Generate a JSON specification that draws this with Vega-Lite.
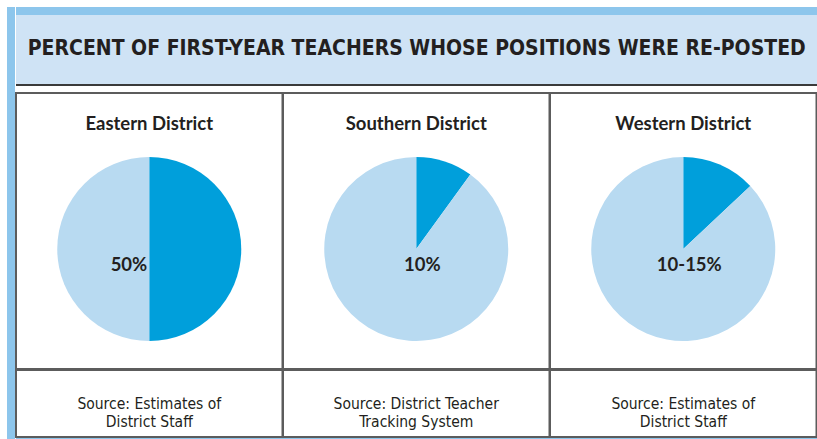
{
  "$schema": "https://vega.github.io/schema/vega-lite/v6.json",
  "usermeta": {"embedOptions": {"actions": false}},
  "background": "white",
  "padding": {"left": 7, "top": 7, "right": 0, "bottom": 0},
  "config": {"view": {"stroke": null}},
  "datasets": {
    "pies": [
      {"district": "Eastern District", "part": "Re-posted", "value": 50, "label": "50%"},
      {"district": "Eastern District", "part": "Not re-posted", "value": 50},
      {"district": "Southern District", "part": "Re-posted", "value": 10, "label": "10%"},
      {"district": "Southern District", "part": "Not re-posted", "value": 90},
      {"district": "Western District", "part": "Re-posted", "value": 13, "label": "10-15%"},
      {"district": "Western District", "part": "Not re-posted", "value": 87}
    ],
    "districts": [
      {"district": "Eastern District", "source": "Source: Estimates of\nDistrict Staff"},
      {"district": "Southern District", "source": "Source: District Teacher\nTracking System"},
      {"district": "Western District", "source": "Source: Estimates of\nDistrict Staff"}
    ],
    "heading": [{"title": "PERCENT OF FIRST-YEAR TEACHERS WHOSE POSITIONS WERE RE-POSTED"}]
  },
  "spacing": 0,
  "hconcat": [
    {
      "data": {"name": "heading"},
      "width": 8, "height": 432,
      "view": {"fill": "#8DC6EC", "stroke": null},
      "mark": {"type": "text", "text": "", "fontSize": 0},
      "encoding": {}
    },
    {
      "spacing": 6,
      "vconcat": [
        {
          "spacing": 0,
          "vconcat": [
            {
              "data": {"name": "heading"},
              "width": 801.5, "height": 8,
              "view": {"fill": "#8DC6EC", "stroke": null},
              "mark": {"type": "text", "text": "", "fontSize": 0},
              "encoding": {}
            },
            {
              "data": {"name": "heading"},
              "width": 801.5, "height": 70,
              "view": {"fill": "#CFE3F5", "stroke": null},
              "layer": [
                {
                  "mark": {"type": "rule", "color": "#3A3A3A", "strokeWidth": 2},
                  "encoding": {"y": {"value": "height"}}
                },
                {
                  "mark": {"type": "text", "font": "Liberation Sans Narrow, DejaVu Sans Condensed, Roboto", "fontWeight": "bold", "fontSize": 21, "color": "#231F20", "dy": -1},
                  "encoding": {"text": {"field": "title"}}
                }
              ]
            }
          ]
        },
        {
          "spacing": -2,
          "vconcat": [
            {
              "data": {"name": "pies"},
              "facet": {"column": {"field": "district", "header": null, "sort": ["Eastern District", "Southern District", "Western District"]}},
              "spacing": 0,
              "bounds": "flush",
              "spec": {
                "width": 266.5, "height": 276,
                "view": {"stroke": "#5C5C5C", "strokeWidth": 2},
                "layer": [
                  {
                    "mark": {"type": "arc", "outerRadius": 92, "yOffset": 18},
                    "encoding": {
                      "theta": {"field": "value", "type": "quantitative", "stack": true},
                      "color": {"field": "part", "type": "nominal", "scale": {"domain": ["Re-posted", "Not re-posted"], "range": ["#009FDB", "#B8DAF1"]}, "legend": null},
                      "order": {"field": "part", "sort": "descending"}
                    }
                  },
                  {
                    "transform": [{"filter": "datum.part === 'Re-posted'"}],
                    "mark": {"type": "text", "font": "Lato", "fontWeight": "bold", "fontSize": 18.5, "color": "#231F20", "dy": -107},
                    "encoding": {"text": {"field": "district"}}
                  },
                  {
                    "transform": [{"filter": "datum.part === 'Re-posted' && datum.district === 'Eastern District'"}],
                    "mark": {"type": "text", "font": "Lato", "fontWeight": "bold", "fontSize": 18.5, "color": "#231F20", "align": "right", "dx": -2, "dy": 34},
                    "encoding": {"text": {"field": "label"}}
                  },
                  {
                    "transform": [{"filter": "datum.part === 'Re-posted' && datum.district !== 'Eastern District'"}],
                    "mark": {"type": "text", "font": "Lato", "fontWeight": "bold", "fontSize": 18.5, "color": "#231F20", "align": "center", "dx": 6, "dy": 34},
                    "encoding": {"text": {"field": "label"}}
                  }
                ]
              }
            },
            {
              "data": {"name": "districts"},
              "facet": {"column": {"field": "district", "header": null, "sort": ["Eastern District", "Southern District", "Western District"]}},
              "spacing": 0,
              "bounds": "flush",
              "spec": {
                "width": 266.5, "height": 67,
                "view": {"stroke": "#5C5C5C", "strokeWidth": 2},
                "mark": {"type": "text", "lineBreak": "\n", "font": "Liberation Sans Narrow, DejaVu Sans Condensed, Roboto", "fontSize": 15.5, "lineHeight": 18, "color": "#231F20"},
                "encoding": {"text": {"field": "source"}}
              }
            },
            {
              "data": {"name": "heading"},
              "width": 801.5, "height": 2,
              "view": {"fill": "#8DC6EC", "stroke": null},
              "mark": {"type": "text", "text": "", "fontSize": 0},
              "encoding": {}
            }
          ]
        }
      ]
    }
  ]
}
